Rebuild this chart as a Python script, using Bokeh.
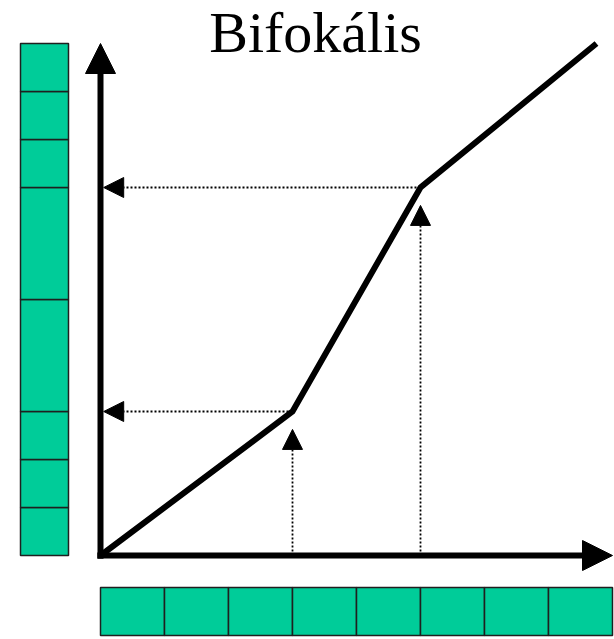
from bokeh.plotting import figure
from bokeh.models import Range1d, Arrow, NormalHead, ColumnDataSource
from bokeh.core.properties import value
from bokeh.embed import file_html
from bokeh.resources import INLINE

# ---- data ----
title_text = "Bifokális"
curve_x = [0.0, 3.0, 5.0, 7.75]
curve_y = [0.0, 2.25, 5.75, 8.0]
break_x = [3.0, 5.0]
break_y = [2.25, 5.75]
out_edges = [0.0, 0.75, 1.5, 2.25, 4.0, 5.75, 6.5, 7.25, 8.0]   # output (vertical) cells
in_edges = [0, 1, 2, 3, 4, 5, 6, 7, 8]                          # input (horizontal) cells
axis_max = 8.0

TEAL = "#00CC99"
EDGE = "#1f1f1f"

p = figure(width=614, height=639, output_backend="svg", toolbar_location=None,
           x_range=Range1d(-1.5625, 8.03125), y_range=Range1d(-1.3125, 8.671875),
           x_axis_type=None, y_axis_type=None, min_border=0)
p.grid.visible = False
p.outline_line_color = None
p.background_fill_color = "white"
p.border_fill_color = "white"

# left output bar (cells)
p.quad(left=[-1.25] * (len(out_edges) - 1), right=[-0.5] * (len(out_edges) - 1),
       bottom=out_edges[:-1], top=out_edges[1:],
       fill_color=TEAL, line_color=EDGE, line_width=1.5)

# bottom input bar (cells)
p.quad(left=in_edges[:-1], right=in_edges[1:],
       bottom=[-1.25] * (len(in_edges) - 1), top=[-0.5] * (len(in_edges) - 1),
       fill_color=TEAL, line_color=EDGE, line_width=1.5)

# axes with arrows
p.add_layout(Arrow(x_start=0, y_start=-0.05, x_end=0, y_end=axis_max,
                   line_width=6, line_color="black",
                   end=NormalHead(size=30, fill_color="black", line_color="black")))
p.add_layout(Arrow(x_start=-0.05, y_start=0, x_end=axis_max, y_end=0,
                   line_width=6, line_color="black",
                   end=NormalHead(size=30, fill_color="black", line_color="black")))

# dotted guide arrows
h_src = ColumnDataSource(dict(xs=break_x, ys=break_y, xe=[0.05] * len(break_x), ye=break_y))
p.add_layout(Arrow(source=h_src, x_start="xs", y_start="ys", x_end="xe", y_end="ye",
                   line_width=1.8, line_color="black", line_dash="2 2",
                   end=NormalHead(size=20, fill_color="black", line_color="black")))
v_src = ColumnDataSource(dict(xs=break_x, ys=[0.0] * len(break_x), xe=break_x,
                              ye=[b - 0.28 for b in break_y]))
p.add_layout(Arrow(source=v_src, x_start="xs", y_start="ys", x_end="xe", y_end="ye",
                   line_width=1.8, line_color="black", line_dash="2 2",
                   end=NormalHead(size=20, fill_color="black", line_color="black")))

# transfer curve
p.line(curve_x, curve_y, line_width=6, line_color="black", line_join="miter")

# title
p.text(x=[3.36], y=[8.17], text=[title_text], text_font=value("Liberation Serif"),
       text_font_size="58px", text_align="center", text_baseline="alphabetic",
       text_color="black")

open("out.html", "w").write(file_html(p, INLINE))
